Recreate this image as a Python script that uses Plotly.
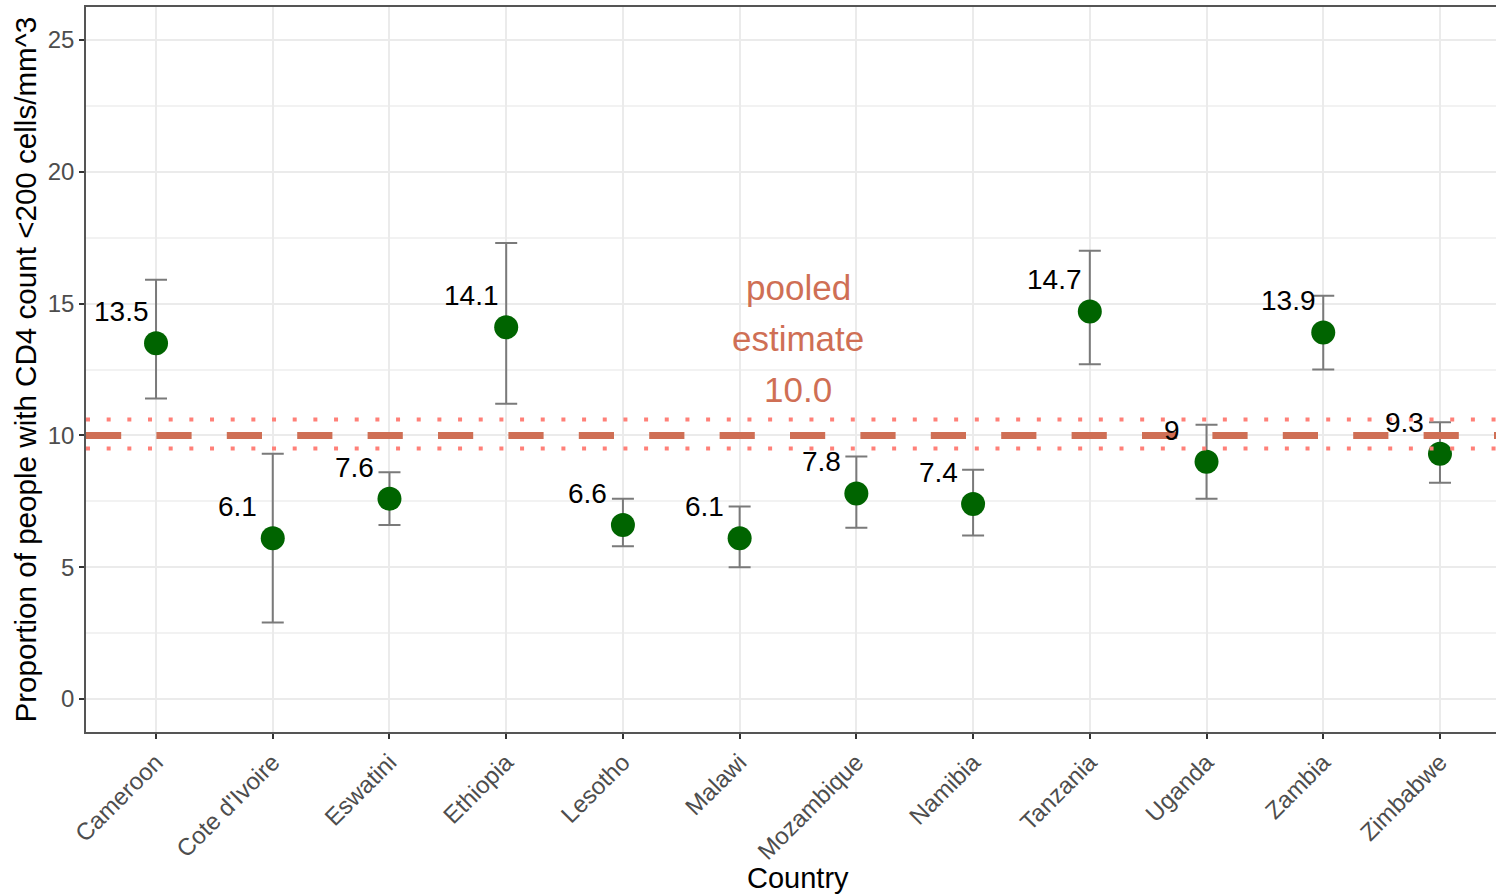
import plotly.graph_objects as go

countries = ["Cameroon", "Cote d'Ivoire", "Eswatini", "Ethiopia", "Lesotho", "Malawi",
             "Mozambique", "Namibia", "Tanzania", "Uganda", "Zambia", "Zimbabwe"]
estimate = [13.5, 6.1, 7.6, 14.1, 6.6, 6.1, 7.8, 7.4, 14.7, 9.0, 13.9, 9.3]
lower = [11.4, 2.9, 6.6, 11.2, 5.8, 5.0, 6.5, 6.2, 12.7, 7.6, 12.5, 8.2]
upper = [15.9, 9.3, 8.6, 17.3, 7.6, 7.3, 9.2, 8.7, 17.0, 10.4, 15.3, 10.5]
pooled = 10.0
pooled_lower = 9.5
pooled_upper = 10.6
y_ticks = [0, 5, 10, 15, 20, 25]
pooled_lines = ["pooled", "estimate", f"{pooled:.1f}"]

FONT = "Liberation Sans, Arial, sans-serif"

fig = go.Figure()
fig.add_trace(go.Scatter(
    x=countries, y=estimate, mode="markers",
    marker=dict(color="#006400", size=24, line=dict(width=0)),
    error_y=dict(type="data", symmetric=False,
                 array=[u - e for u, e in zip(upper, estimate)],
                 arrayminus=[e - l for e, l in zip(estimate, lower)],
                 color="#7a7a7a", thickness=2, width=11),
    showlegend=False, hoverinfo="skip"))

# pooled estimate lines
fig.add_shape(type="line", xref="paper", x0=0, x1=1, yref="y", y0=pooled, y1=pooled,
              line=dict(color="#CF6F55", width=7, dash="35.2px,35.2px"), layer="above")
for v in (pooled_lower, pooled_upper):
    fig.add_shape(type="line", xref="paper", x0=0, x1=1, yref="y", y0=v, y1=v,
                  line=dict(color="#FF8078", width=4, dash="4px,16.67px"), layer="above")

annotations = []
for i, (c, e) in enumerate(zip(countries, estimate)):
    annotations.append(dict(x=i - 0.3, y=e + 1.2, xref="x", yref="y", text=f"{e:g}",
                            showarrow=False, xanchor="center", yanchor="middle",
                            font=dict(family=FONT, size=28, color="black")))
for k, line in enumerate(pooled_lines):
    annotations.append(dict(x=5.5, y=pooled, xref="x", yref="y", text=line,
                            showarrow=False, xanchor="center", yanchor="middle",
                            yshift=148 - 51 * k,
                            font=dict(family=FONT, size=35, color="#CF6F55")))
annotations.append(dict(x=0, y=0.5, xref="paper", yref="paper", xshift=-61,
                        text="Proportion of people with CD4 count <200 cells/mm^3",
                        textangle=-90, showarrow=False, xanchor="center", yanchor="middle",
                        font=dict(family=FONT, size=29.6, color="black")))
annotations.append(dict(x=5.5, y=0, xref="x", yref="paper", yshift=-146,
                        text="Country", showarrow=False, xanchor="center", yanchor="middle",
                        font=dict(family=FONT, size=29, color="black")))

fig.update_layout(
    width=1496, height=894,
    margin=dict(l=86, r=0, t=7, b=162),
    plot_bgcolor="white", paper_bgcolor="white",
    font=dict(family=FONT),
    annotations=annotations,
    xaxis=dict(type="category", range=[-0.6, 11.48], showgrid=True, gridcolor="#EBEBEB",
               gridwidth=2, zeroline=False, showline=True, linecolor="#555555", linewidth=1.5,
               mirror=True, ticks="outside", ticklen=5, tickcolor="#333333", tickwidth=1.5,
               tickangle=-45, tickfont=dict(family=FONT, size=24, color="#4D4D4D")),
    yaxis=dict(range=[-1.25, 26.25], tickvals=y_ticks, showgrid=True, gridcolor="#EBEBEB",
               gridwidth=2, zeroline=False, showline=True, linecolor="#555555", linewidth=1.5,
               ticks="outside", ticklen=5, tickcolor="#333333", tickwidth=1.5,
               tickfont=dict(family=FONT, size=24, color="#4D4D4D"),
               minor=dict(tickvals=[2.5, 7.5, 12.5, 17.5, 22.5], showgrid=True,
                          gridcolor="#F2F2F2", gridwidth=1.5, ticks="")),
)

fig.write_html("out.html")
